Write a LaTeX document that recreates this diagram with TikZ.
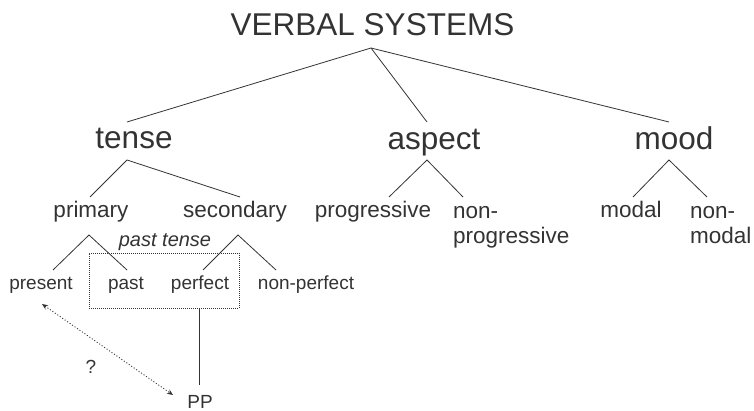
\documentclass[tikz,border=0pt]{standalone}
\usepackage{fontspec}
\setmainfont{Liberation Sans}
\usetikzlibrary{calc,arrows.meta}
\definecolor{ink}{HTML}{333333}
\tikzset{
  lbl/.style={anchor=base, inner sep=0pt, text=ink},
  big/.style={lbl, font=\fontsize{31.5}{36}\selectfont},
  mid/.style={lbl, font=\fontsize{22.5}{26}\selectfont},
  sml/.style={lbl, font=\fontsize{19}{22}\selectfont},
  br/.style={draw=ink, line width=0.8pt},
}
\begin{document}
\begin{tikzpicture}[x=1pt,y=-1pt]
\useasboundingbox (0,0) rectangle (754,411);
% nodes
\node[big] (vs) at (372.5,36) {VERBAL SYSTEMS};
\node[big] (tense) at (134,149) {tense};
\node[big] (aspect) at (434,150) {aspect};
\node[big] (mood) at (674,150) {mood};
\node[mid] (primary) at (91,218) {primary};
\node[mid] (secondary) at (235,218) {secondary};
\node[mid] (prog) at (373,218) {progressive};
\node[mid, anchor=base west, align=left] (nonprog) at (453,244) {non-\\[-0.5pt]progressive};
\node[mid] (modal) at (631,218) {modal};
\node[mid, anchor=base west, align=left] (nonmodal) at (690,244) {non-\\[-0.5pt]modal};
\node[sml, font=\fontsize{20}{24}\selectfont\itshape] (pt) at (165,247) {past tense};
\node[sml] (present) at (41,290) {present};
\node[sml] (past) at (126,290) {past};
\node[sml] (perfect) at (200,290) {perfect};
\node[sml] (nonperf) at (306,290) {non-perfect};
\node[sml] (pp) at (200,408.5) {PP};
\node[sml] (q) at (91,373) {?};
\node[draw=ink, line width=0.9pt, dash pattern=on 1pt off 1pt, minimum width=150pt, minimum height=55pt, inner sep=0pt] (box) at (164,280.5) {};
% top level
\draw[br] ($(vs.base)+(-1.5,12)$) -- ($(tense.base)+(-7,-27)$);
\draw[br] ($(vs.base)+(-1.5,12)$) -- ($(aspect.base)+(-7,-28)$);
\draw[br] ($(vs.base)+(-1.5,12)$) -- ($(mood.base)+(-5,-28)$);
% tense
\draw[br] ($(primary.base)+(-1,-21)$) -- ($(tense.base)+(-7,11)$) -- ($(secondary.base)+(5,-21)$);
% aspect
\draw[br] ($(prog.base)+(16,-21)$) -- ($(aspect.base)+(-7,10)$) -- ($(nonprog.base west)+(10,-47)$);
% mood
\draw[br] ($(modal.base)+(2,-21)$) -- ($(mood.base)+(-5,10)$) -- ($(nonmodal.base west)+(17,-47)$);
% primary / secondary
\draw[br] ($(present.base)+(12,-20)$) -- ($(primary.base)+(-2,17)$) -- ($(past.base)+(1,-20)$);
\draw[br] ($(perfect.base)+(3,-20)$) -- ($(secondary.base)+(3,17)$) -- ($(nonperf.base)+(-30,-20)$);
% PP
\draw[br] ($(box.south)+(35,0)$) -- ($(pp.base)+(-1,-23.5)$);
\draw[draw=ink, line width=0.9pt, dash pattern=on 1pt off 2pt, {Stealth[length=6pt,width=5pt]}-{Stealth[length=6pt,width=5pt]}]
  ($(present.base)+(1,14)$) -- ($(pp.base)+(-27,-13.5)$);
\end{tikzpicture}
\end{document}
